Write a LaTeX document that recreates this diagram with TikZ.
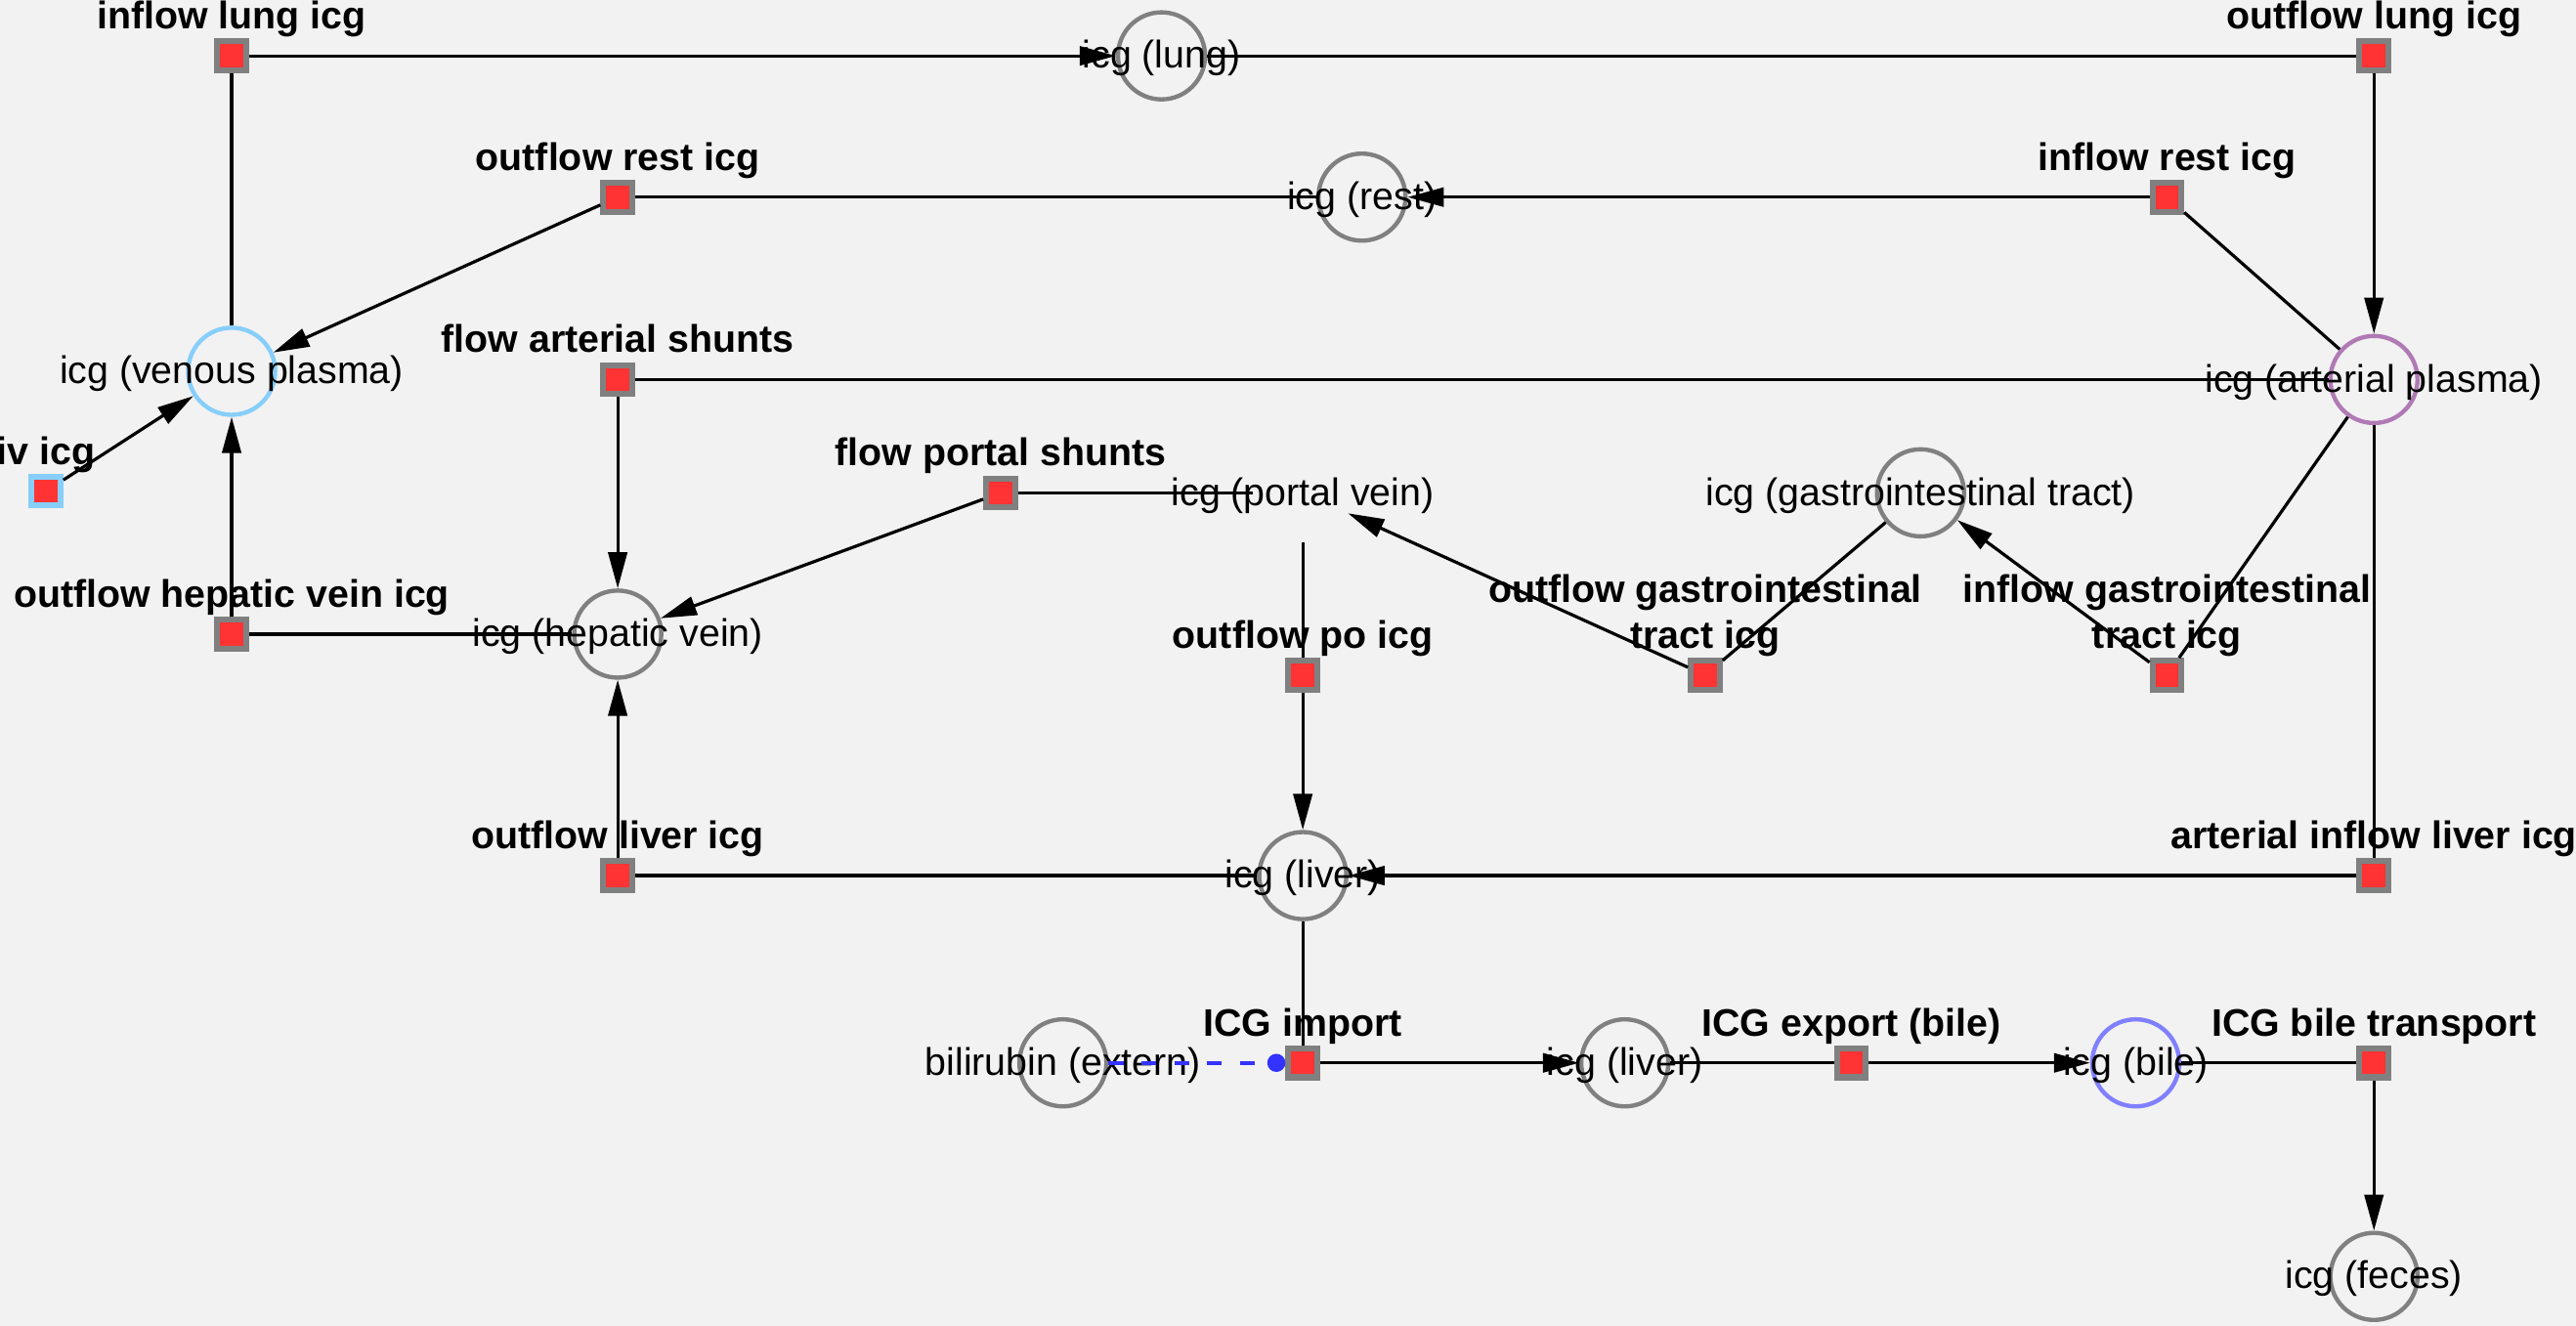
\documentclass[tikz,border=0pt]{standalone}
\usepackage{fontspec}
\setmainfont{Liberation Sans}
\usepackage{tikz}
\usetikzlibrary{arrows.meta}
\definecolor{bggray}{HTML}{F2F2F2}
\definecolor{nodegray}{HTML}{808080}
\definecolor{rxnred}{HTML}{FF3333}
\definecolor{venblue}{HTML}{87CEFA}
\definecolor{artpurple}{HTML}{B07AB5}
\definecolor{bileblue}{HTML}{8080FF}
\definecolor{modblue}{HTML}{3333FF}

\begin{document}
\begin{tikzpicture}[x=1pt,y=-1pt,>={Triangle[length=22pt,width=11.5pt]},
  species/.style={circle,draw=nodegray,line width=2.6pt,minimum size=53pt,inner sep=0pt},
  hidden/.style={circle,draw=none,minimum size=60pt,inner sep=0pt},
  stext/.style={font=\fontsize{23.4}{28}\selectfont,inner sep=0pt,yshift=-1.5pt},
  rxn/.style={rectangle,draw=nodegray,fill=rxnred,line width=3.6pt,minimum size=17.6pt,inner sep=0pt},
  rtext/.style={font=\fontsize{23.4}{28}\selectfont\bfseries,inner sep=0pt,text depth=0pt,align=center,yshift=5.5pt},
  flux/.style={line width=1.9pt},
  modif/.style={draw=modblue,line width=2.4pt,dash pattern=on 9pt off 11pt,-{Circle[length=11pt]}}]
\path[use as bounding box,fill=bggray] (0,0) rectangle (1568,807);

% species
\node[species,label={[stext]center:icg (lung)}] (lung) at (707,34) {};
\node[species,label={[stext]center:icg (rest)}] (rest) at (829,120) {};
\node[species,draw=venblue,label={[stext]center:icg (venous plasma)}] (ven) at (141,226) {};
\node[species,draw=artpurple,label={[stext]center:icg (arterial plasma)}] (art) at (1445,231) {};
\node[species,label={[stext]center:icg (hepatic vein)}] (hv) at (376,386) {};
\node[hidden,label={[stext]center:icg (portal vein)}] (pv) at (793,300) {};
\node[species,label={[stext]center:icg (gastrointestinal tract)}] (gi) at (1169,300) {};
\node[species,label={[stext]center:icg (liver)}] (liv) at (793,533) {};
\node[species,label={[stext]center:bilirubin (extern)}] (bil) at (647,647) {};
\node[species,label={[stext]center:icg (liver)}] (livb) at (989,647) {};
\node[species,draw=bileblue,label={[stext]center:icg (bile)}] (bile) at (1300,647) {};
\node[species,label={[stext]center:icg (feces)}] (fec) at (1445,777) {};

% reactions
\node[rxn,label={[rtext]above:inflow lung icg}] (inlung) at (141,34) {};
\node[rxn,label={[rtext]above:outflow lung icg}] (outlung) at (1445,34) {};
\node[rxn,label={[rtext]above:outflow rest icg}] (outrest) at (376,120) {};
\node[rxn,label={[rtext]above:inflow rest icg}] (inrest) at (1319,120) {};
\node[rxn,label={[rtext]above:flow arterial shunts}] (shunta) at (376,231) {};
\node[rxn,draw=venblue,label={[rtext]above:iv icg}] (iv) at (28,299) {};
\node[rxn,label={[rtext]above:flow portal shunts}] (shuntp) at (609,300) {};
\node[rxn,label={[rtext]above:outflow hepatic vein icg}] (outhv) at (141,386) {};
\node[rxn,label={[rtext]above:outflow po icg}] (outpo) at (793,411) {};
\node[rxn,label={[rtext]above:outflow gastrointestinal\\tract icg}] (outgi) at (1038,411) {};
\node[rxn,label={[rtext]above:inflow gastrointestinal\\tract icg}] (ingi) at (1319,411) {};
\node[rxn,label={[rtext]above:outflow liver icg}] (outliv) at (376,533) {};
\node[rxn,label={[rtext]above:arterial inflow liver icg}] (inliv) at (1445,533) {};
\node[rxn,label={[rtext]above:ICG import}] (imp) at (793,647) {};
\node[rxn,label={[rtext]above:ICG export (bile)}] (exp) at (1127,647) {};
\node[rxn,label={[rtext]above:ICG bile transport}] (bilet) at (1445,647) {};

% connectors
\draw[flux] (ven) -- (inlung);
\draw[flux,->] (inlung) -- (lung);
\draw[flux] (lung) -- (outlung);
\draw[flux,->] (outlung) -- (art);
\draw[flux] (art) -- (inrest);
\draw[flux,->] (inrest) -- (rest);
\draw[flux] (rest) -- (outrest);
\draw[flux,->] (outrest) -- (ven);
\draw[flux] (art) -- (shunta);
\draw[flux,->] (shunta) -- (hv);
\draw[flux,->] (iv) -- (ven);
\draw[flux] (hv) -- (outhv);
\draw[flux,->] (outhv) -- (ven);
\draw[flux] (pv) -- (shuntp);
\draw[flux,->] (shuntp) -- (hv);
\draw[flux] (pv) -- (outpo);
\draw[flux,->] (outpo) -- (liv);
\draw[flux] (gi) -- (outgi);
\draw[flux,->] (outgi) -- (pv);
\draw[flux] (art) -- (ingi);
\draw[flux,->] (ingi) -- (gi);
\draw[flux] (art) -- (inliv);
\draw[flux,->] (inliv) -- (liv);
\draw[flux] (liv) -- (outliv);
\draw[flux,->] (outliv) -- (hv);
\draw[flux] (liv) -- (imp);
\draw[flux,->] (imp) -- (livb);
\draw[modif] (bil) -- (imp);
\draw[flux] (livb) -- (exp);
\draw[flux,->] (exp) -- (bile);
\draw[flux] (bile) -- (bilet);
\draw[flux,->] (bilet) -- (fec);
\end{tikzpicture}
\end{document}
